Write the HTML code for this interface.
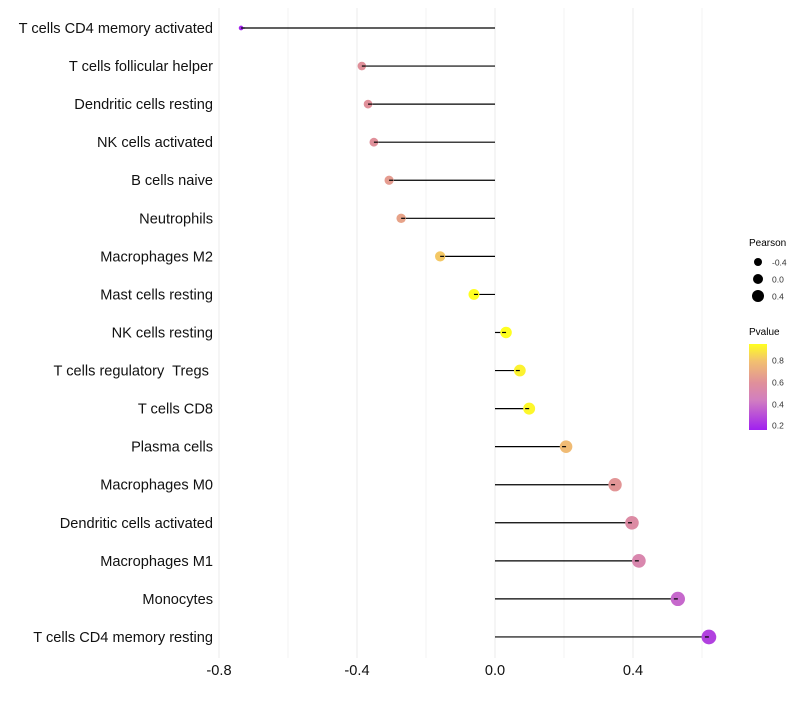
<!DOCTYPE html>
<html><head><meta charset="utf-8"><style>
body{margin:0;background:#fff;font-family:"Liberation Sans",Arial,sans-serif}
svg text{font-family:"Liberation Sans",Arial,sans-serif;white-space:pre}
</style></head><body>
<svg id="chart" width="800" height="700" viewBox="0 0 800 700">
<defs><linearGradient id="pg" x1="0" y1="1" x2="0" y2="0">
<stop offset="0" stop-color="#a020f0"/><stop offset="0.35" stop-color="#d27fc0"/><stop offset="0.55" stop-color="#e0909a"/><stop offset="0.8" stop-color="#f2c070"/><stop offset="1" stop-color="#ffff20"/></linearGradient></defs>
<g id="grid"></g>
<g id="marks"></g>
<g id="ylabels"></g>
<g id="xlabels"></g>
<g>
<text x="749" y="246" font-size="10" fill="#000">Pearson</text>
<circle cx="758" cy="262" r="4" fill="#000"/><text x="772" y="265.5" font-size="8.5" fill="#333">-0.4</text>
<circle cx="758" cy="279" r="5" fill="#000"/><text x="772" y="282.5" font-size="8.5" fill="#333">0.0</text>
<circle cx="758" cy="296" r="6" fill="#000"/><text x="772" y="299.5" font-size="8.5" fill="#333">0.4</text>
</g>
<g>
<text x="749" y="335" font-size="10" fill="#000">Pvalue</text>
<rect x="749" y="344" width="18" height="86" fill="url(#pg)"/>
<text x="772" y="363.5" font-size="8.5" fill="#333">0.8</text>
<text x="772" y="385.5" font-size="8.5" fill="#333">0.6</text>
<text x="772" y="407.5" font-size="8.5" fill="#333">0.4</text>
<text x="772" y="428.5" font-size="8.5" fill="#333">0.2</text>
</g>
</svg>
<script>
const categories=["T cells CD4 memory activated","T cells follicular helper","Dendritic cells resting","NK cells activated","B cells naive","Neutrophils","Macrophages M2","Mast cells resting","NK cells resting","T cells regulatory  Tregs ","T cells CD8","Plasma cells","Macrophages M0","Dendritic cells activated","Macrophages M1","Monocytes","T cells CD4 memory resting"];
const pearson=[-0.736,-0.386,-0.368,-0.351,-0.307,-0.272,-0.159,-0.061,0.032,0.072,0.099,0.206,0.348,0.397,0.417,0.530,0.620];
const pvalue=[0.18,0.60,0.60,0.60,0.65,0.68,0.82,0.95,0.95,0.92,0.93,0.78,0.62,0.56,0.52,0.38,0.26];
const xTicks=[-0.8,-0.4,0.0,0.4];
const xTickLabels=["-0.8","-0.4","0.0","0.4"];
const xMinor=[-0.6,-0.2,0.2,0.6];
const NS="http://www.w3.org/2000/svg";
const x=v=>495+v*345;
const y=i=>28+i*38.06;
function mk(t,a,p){const e=document.createElementNS(NS,t);for(const k in a)e.setAttribute(k,a[k]);p.appendChild(e);return e;}
const stops=[[0.16,[160,32,240]],[0.45,[210,127,192]],[0.6,[224,144,154]],[0.8,[242,192,112]],[0.95,[255,255,32]]];
function col(p){if(p<=stops[0][0])return "rgb("+stops[0][1]+")";for(let i=1;i<stops.length;i++){if(p<=stops[i][0]){const a=stops[i-1],b=stops[i],t=(p-a[0])/(b[0]-a[0]);return "rgb("+a[1].map((c,j)=>Math.round(c+(b[1][j]-c)*t))+")";}}return "rgb("+stops[stops.length-1][1]+")";}
const grid=document.getElementById('grid');
xTicks.concat(xMinor).forEach(v=>{const l=mk('line',{x1:x(v),x2:x(v),y1:8,y2:658,stroke:xTicks.includes(v)?'#ebebeb':'#f3f3f3','stroke-width':1},grid);

});
categories.forEach((c,i)=>{const g=document.getElementById('ylabels');
const t=mk('text',{x:213,y:y(i)+5,'text-anchor':'end','font-size':14.6,fill:'#111'},g);t.textContent=c;

});
const marks=document.getElementById('marks');
pearson.forEach((v,i)=>{const l=mk('line',{x1:x(0),x2:x(v),y1:y(i),y2:y(i),stroke:'#000','stroke-width':1.2},marks);


const r=Math.sqrt(Math.max(32+36*v,2.5));
const c=mk('circle',{cx:x(v),cy:y(i),r:r,fill:col(pvalue[i])},marks);


const l2=mk('line',{x1:x(v),x2:x(v)+(v<0?4:-4),y1:y(i),y2:y(i),stroke:'#000','stroke-width':1.2},marks);

});
xTicks.forEach((v,i)=>{const t=mk('text',{x:x(v),y:675,'text-anchor':'middle','font-size':14.6,fill:'#111'},document.getElementById('xlabels'));t.textContent=xTickLabels[i];

});
</script>
</body></html>
